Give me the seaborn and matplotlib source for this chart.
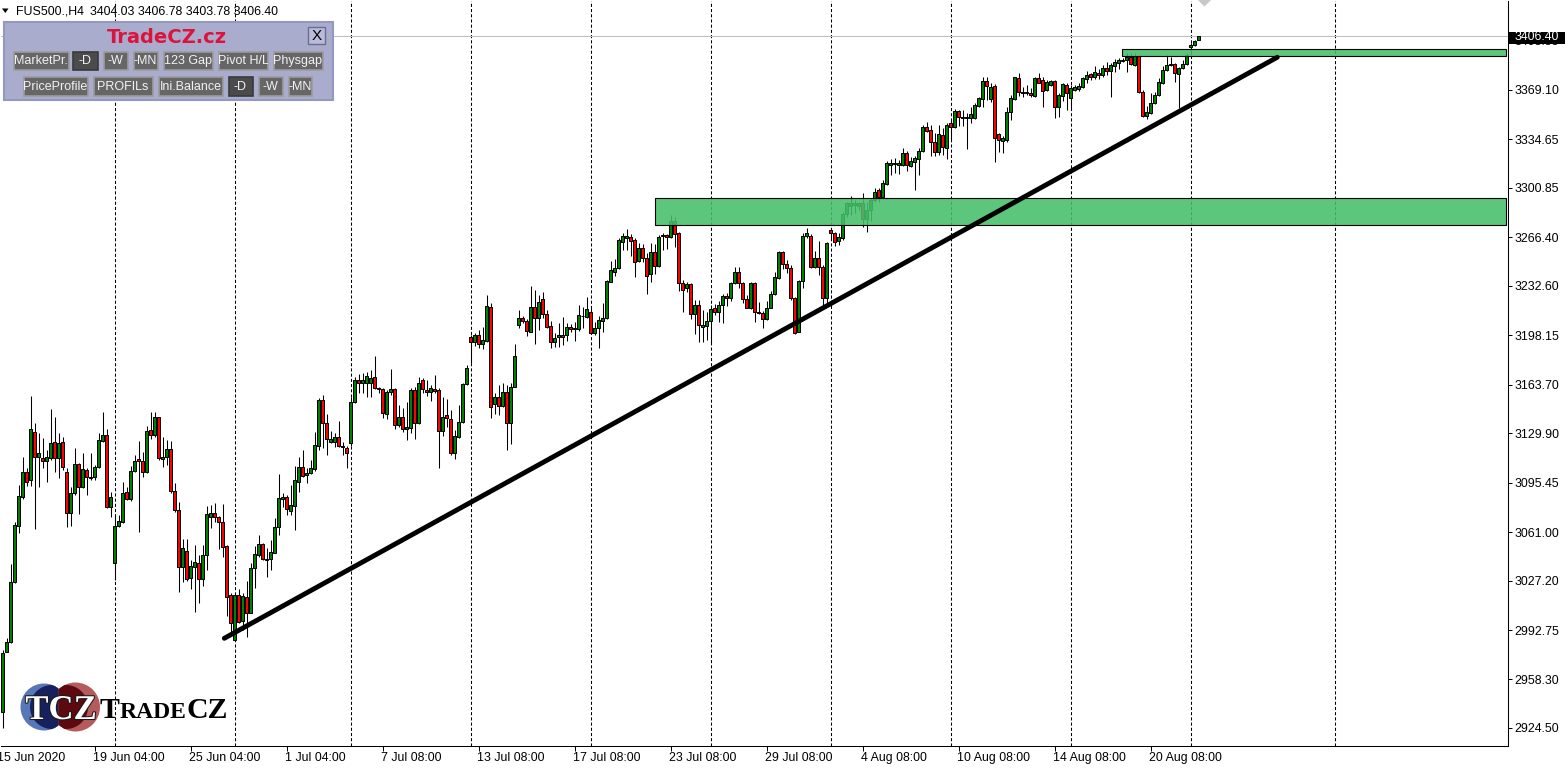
import numpy as np
import pandas as pd
import matplotlib
matplotlib.use("Agg")
import matplotlib.pyplot as plt
import matplotlib.patheffects as pe
from matplotlib.patches import Rectangle, Polygon, Circle
from matplotlib.transforms import IdentityTransform, blended_transform_factory
import seaborn as sns

# ---------------------------------------------------------------- data
symbol = "FUS500.,H4"
last_ohlc = ["3404.03", "3406.78", "3403.78", "3406.40"]

opens = [
    2935.6, 2977.6, 2984.6, 3026.0, 3065.5, 3085.2, 3102.7, 3097.3, 3131.0, 3113.5,
    3112.8, 3110.8, 3112.4, 3123.6, 3112.4, 3123.6, 3102.7, 3074.1, 3088.0, 3108.2,
    3092.6, 3104.3, 3098.5, 3099.2, 3106.2, 3124.7, 3128.7, 3078.3, 3039.3, 3065.5,
    3068.2, 3088.7, 3083.8, 3103.6, 3111.7, 3110.8, 3103.1, 3132.1, 3128.7, 3141.0,
    3112.1, 3113.1, 3118.9, 3089.6, 3076.4, 3036.9, 3047.8, 3028.8, 3036.9, 3039.7,
    3028.1, 3045.0, 3071.3, 3074.1, 3071.7, 3068.2, 3051.3, 3017.2, 2985.8, 3017.2,
    2999.3, 3016.0, 3004.8, 3035.8, 3045.0, 3052.7, 3042.2, 3042.0, 3046.6, 3064.3,
    3084.3, 3085.7, 3075.9, 3079.4, 3096.1, 3106.6, 3100.8, 3102.0, 3104.8, 3121.0,
    3153.1, 3136.8, 3124.0, 3124.0, 3127.1, 3121.0, 3119.4, 3123.3, 3151.9, 3167.0,
    3164.7, 3165.1, 3165.1, 3169.3, 3161.6, 3160.5, 3143.3, 3158.8, 3160.5, 3135.6,
    3141.0, 3132.6, 3133.3, 3160.0, 3137.2, 3167.0, 3160.0, 3158.8, 3160.7, 3160.0,
    3131.7, 3142.6, 3139.6, 3116.3, 3127.5, 3137.9, 3164.2, 3196.7, 3193.7, 3198.3,
    3192.1, 3194.4, 3217.6, 3150.3, 3155.0, 3148.9, 3158.4, 3137.2, 3162.3, 3205.3,
    3210.0, 3208.1, 3200.6, 3217.6, 3210.0, 3223.2, 3212.8, 3204.6, 3193.3, 3196.7,
    3198.3, 3198.3, 3203.7, 3202.3, 3202.3, 3211.4, 3211.1, 3214.6, 3199.5, 3203.0,
    3208.1, 3210.4, 3235.5, 3242.5, 3245.2, 3263.4, 3266.2, 3266.4, 3264.6, 3249.9,
    3258.8, 3251.8, 3240.6, 3256.0, 3246.6, 3267.5, 3268.0, 3266.4, 3277.8, 3269.2,
    3234.8, 3230.9, 3233.7, 3212.8, 3219.3, 3204.1, 3204.8, 3208.1, 3217.0, 3214.2,
    3219.3, 3225.7, 3223.9, 3234.4, 3242.0, 3234.4, 3223.4, 3217.4, 3234.4, 3214.2,
    3213.5, 3209.5, 3217.4, 3226.7, 3238.3, 3256.0, 3247.6, 3244.8, 3224.3, 3200.6,
    3236.0, 3267.5, 3267.5, 3245.9, 3251.8, 3245.9, 3224.3, 3271.5, 3269.2, 3263.9,
    3265.7, 3282.7, 3288.2, 3288.9, 3288.2, 3290.1, 3279.0, 3285.5, 3292.4, 3299.4,
    3294.3, 3303.6, 3316.8, 3317.3, 3316.8, 3316.8, 3325.0, 3316.1, 3319.1, 3321.0,
    3326.8, 3343.1, 3341.2, 3333.1, 3326.1, 3337.7, 3328.5, 3346.3, 3343.1, 3354.7,
    3350.1, 3349.4, 3349.4, 3349.4, 3357.9, 3362.6, 3375.6, 3362.6, 3371.9, 3338.4,
    3333.7, 3334.2, 3354.0, 3362.6, 3377.2, 3367.9, 3366.8, 3366.8, 3364.9, 3377.2,
    3376.1, 3369.1, 3372.6, 3375.6, 3357.0, 3364.9, 3372.6, 3363.3, 3369.1, 3369.6,
    3371.0, 3376.5, 3380.0, 3378.4, 3381.1, 3379.5, 3384.2, 3382.5, 3385.8, 3387.7,
    3389.3, 3390.0, 3392.3, 3386.5, 3392.8, 3367.9, 3351.0, 3353.3, 3359.8, 3365.6,
    3374.2, 3383.0, 3386.5, 3387.0, 3380.2, 3384.2, 3387.0, 3398.8, 3400.4, 3404.03,
]
highs = [
    2978.8, 2987.0, 3038.8, 3068.2, 3093.8, 3113.1, 3105.5, 3155.8, 3136.8, 3129.8,
    3126.4, 3118.2, 3146.6, 3141.4, 3129.8, 3127.5, 3105.5, 3092.6, 3119.4, 3108.9,
    3115.9, 3105.5, 3115.9, 3107.8, 3130.3, 3144.9, 3132.6, 3089.1, 3073.6, 3072.9,
    3096.1, 3092.6, 3107.1, 3114.7, 3124.7, 3117.0, 3134.9, 3144.9, 3144.9, 3141.4,
    3127.5, 3125.2, 3124.5, 3095.0, 3082.2, 3056.0, 3056.0, 3041.6, 3052.0, 3045.0,
    3052.0, 3079.2, 3079.9, 3081.0, 3072.2, 3080.4, 3052.0, 3018.3, 3018.3, 3021.1,
    3018.8, 3027.1, 3039.3, 3051.3, 3058.9, 3053.2, 3049.7, 3055.5, 3070.6, 3101.5,
    3088.0, 3086.9, 3093.8, 3107.1, 3113.5, 3118.2, 3105.5, 3111.2, 3131.0, 3154.2,
    3156.5, 3143.3, 3131.7, 3129.8, 3138.4, 3124.0, 3121.0, 3155.3, 3169.3, 3171.2,
    3171.7, 3172.8, 3174.0, 3183.7, 3161.9, 3161.2, 3160.0, 3174.4, 3161.2, 3149.6,
    3147.3, 3151.9, 3161.2, 3161.9, 3169.3, 3168.2, 3167.0, 3163.5, 3170.5, 3161.2,
    3155.3, 3153.5, 3146.1, 3132.1, 3149.6, 3165.1, 3177.4, 3198.3, 3199.5, 3201.8,
    3204.1, 3226.2, 3220.4, 3158.1, 3163.5, 3165.1, 3163.5, 3164.7, 3192.1, 3215.8,
    3211.8, 3209.5, 3232.7, 3229.7, 3226.2, 3228.5, 3215.8, 3208.1, 3199.5, 3206.5,
    3211.1, 3206.5, 3205.8, 3207.6, 3219.3, 3218.1, 3225.0, 3217.4, 3207.6, 3211.6,
    3220.4, 3236.7, 3249.9, 3251.3, 3266.2, 3269.2, 3272.2, 3268.5, 3266.2, 3262.3,
    3261.6, 3255.3, 3262.3, 3261.6, 3268.0, 3269.2, 3268.5, 3282.0, 3280.8, 3270.3,
    3236.7, 3235.5, 3234.4, 3222.7, 3222.7, 3215.8, 3214.6, 3219.3, 3219.7, 3222.0,
    3226.7, 3227.4, 3235.5, 3246.0, 3246.0, 3235.5, 3226.2, 3235.5, 3235.5, 3221.1,
    3215.1, 3222.0, 3229.0, 3242.5, 3256.9, 3256.9, 3250.6, 3247.1, 3225.0, 3236.7,
    3269.2, 3272.7, 3268.5, 3256.9, 3263.9, 3247.1, 3263.4, 3272.7, 3269.9, 3269.2,
    3284.3, 3291.2, 3295.2, 3292.4, 3291.2, 3297.1, 3291.2, 3293.6, 3300.6, 3300.6,
    3306.4, 3319.8, 3320.8, 3321.5, 3320.3, 3328.5, 3326.8, 3322.6, 3323.1, 3328.5,
    3344.7, 3347.0, 3344.7, 3339.3, 3344.7, 3342.4, 3345.9, 3348.2, 3355.6, 3355.1,
    3355.1, 3352.8, 3357.4, 3360.2, 3364.0, 3378.4, 3377.9, 3373.7, 3373.3, 3338.9,
    3337.0, 3357.4, 3365.6, 3378.4, 3381.1, 3371.0, 3372.6, 3370.3, 3378.4, 3381.1,
    3378.4, 3376.1, 3376.1, 3376.1, 3366.8, 3374.2, 3373.7, 3372.6, 3372.6, 3373.7,
    3378.4, 3382.5, 3381.1, 3385.8, 3383.5, 3386.5, 3388.8, 3388.1, 3390.5, 3391.2,
    3391.2, 3394.7, 3395.1, 3394.7, 3393.5, 3369.1, 3357.9, 3366.8, 3367.9, 3377.2,
    3385.8, 3393.5, 3392.3, 3387.7, 3385.3, 3390.0, 3394.7, 3401.6, 3403.9, 3406.78,
]
lows = [
    2924.5, 2977.4, 2983.5, 3025.3, 3060.2, 3084.1, 3093.1, 3093.1, 3062.9, 3092.2,
    3105.5, 3096.1, 3111.2, 3103.1, 3098.5, 3104.3, 3064.3, 3065.3, 3086.9, 3073.4,
    3091.5, 3086.9, 3097.3, 3097.3, 3105.5, 3124.0, 3077.6, 3071.7, 3027.6, 3064.8,
    3067.5, 3083.4, 3082.9, 3103.1, 3060.9, 3099.6, 3102.0, 3125.7, 3127.5, 3111.2,
    3106.6, 3107.8, 3088.0, 3075.2, 3019.5, 3026.4, 3027.1, 3021.1, 3005.5, 3011.8,
    3023.4, 3034.6, 3063.6, 3068.2, 3049.0, 3043.9, 3002.5, 2991.6, 2985.3, 2997.4,
    2992.8, 2988.1, 3004.4, 3021.8, 3043.9, 3041.6, 3029.9, 3034.6, 3046.2, 3059.0,
    3078.7, 3072.9, 3072.9, 3062.5, 3089.1, 3099.2, 3095.4, 3101.5, 3103.8, 3118.2,
    3119.4, 3114.7, 3122.9, 3120.1, 3120.5, 3114.7, 3105.5, 3121.0, 3151.2, 3158.1,
    3157.7, 3154.9, 3154.9, 3160.5, 3158.1, 3140.3, 3139.6, 3156.5, 3132.6, 3134.4,
    3131.0, 3125.2, 3129.8, 3125.7, 3136.3, 3157.7, 3155.8, 3152.6, 3158.1, 3105.5,
    3128.0, 3134.4, 3114.7, 3111.7, 3126.4, 3137.2, 3163.5, 3179.0, 3190.7, 3189.1,
    3188.4, 3193.7, 3140.3, 3143.3, 3142.6, 3148.4, 3118.2, 3122.4, 3161.9, 3203.4,
    3206.5, 3197.9, 3200.2, 3191.9, 3201.8, 3210.0, 3203.4, 3189.1, 3190.2, 3190.2,
    3191.4, 3194.2, 3200.2, 3194.2, 3201.1, 3203.0, 3210.0, 3198.8, 3198.3, 3189.5,
    3200.6, 3209.5, 3235.1, 3239.7, 3244.3, 3257.6, 3257.6, 3253.6, 3239.0, 3249.0,
    3249.0, 3226.7, 3235.1, 3240.6, 3245.9, 3257.6, 3258.3, 3265.7, 3259.9, 3229.0,
    3214.2, 3228.5, 3209.5, 3198.8, 3193.7, 3193.7, 3194.9, 3191.9, 3212.3, 3207.2,
    3206.5, 3218.8, 3222.0, 3233.7, 3230.9, 3220.4, 3217.0, 3216.5, 3207.6, 3212.8,
    3203.4, 3208.8, 3217.0, 3226.2, 3237.4, 3244.3, 3241.3, 3222.7, 3198.8, 3200.2,
    3230.9, 3266.2, 3245.2, 3245.2, 3240.2, 3218.1, 3218.1, 3264.6, 3260.6, 3261.1,
    3264.6, 3280.8, 3282.0, 3283.2, 3285.5, 3273.4, 3270.3, 3278.0, 3291.2, 3291.2,
    3293.6, 3302.9, 3309.8, 3311.5, 3310.5, 3316.1, 3312.8, 3315.2, 3299.4, 3309.8,
    3326.1, 3340.0, 3323.1, 3323.1, 3323.8, 3323.8, 3320.8, 3333.5, 3342.4, 3344.0,
    3344.0, 3327.8, 3346.3, 3348.7, 3357.0, 3357.0, 3362.1, 3360.9, 3319.1, 3326.1,
    3325.4, 3333.1, 3348.2, 3362.1, 3364.9, 3364.4, 3365.6, 3364.4, 3364.4, 3373.7,
    3357.0, 3368.6, 3371.9, 3349.4, 3350.1, 3361.6, 3355.1, 3355.1, 3368.6, 3368.6,
    3370.3, 3374.2, 3376.1, 3376.5, 3376.5, 3378.4, 3379.5, 3364.4, 3381.8, 3383.5,
    3388.8, 3381.8, 3386.5, 3385.8, 3366.8, 3350.1, 3348.7, 3352.4, 3359.3, 3364.9,
    3373.3, 3382.5, 3385.8, 3374.9, 3356.3, 3383.5, 3386.5, 3393.5, 3399.7, 3403.78,
]
closes = [
    2976.7, 2984.2, 3026.0, 3065.9, 3086.2, 3102.7, 3096.1, 3132.6, 3113.1, 3116.3,
    3110.8, 3113.1, 3123.3, 3112.4, 3123.3, 3106.2, 3074.1, 3088.0, 3108.2, 3092.6,
    3104.8, 3099.2, 3099.6, 3106.2, 3125.2, 3128.7, 3078.3, 3085.2, 3065.5, 3068.7,
    3088.4, 3083.8, 3103.8, 3110.5, 3110.3, 3103.1, 3131.4, 3128.7, 3141.0, 3112.4,
    3113.1, 3118.9, 3089.6, 3076.4, 3036.9, 3049.7, 3028.1, 3037.4, 3040.0, 3028.1,
    3045.0, 3073.6, 3074.1, 3071.3, 3068.2, 3050.8, 3016.0, 2997.9, 3017.2, 2998.6,
    3016.5, 3004.8, 3035.8, 3045.7, 3052.7, 3042.0, 3041.6, 3047.3, 3064.3, 3084.5,
    3085.7, 3076.9, 3079.9, 3097.3, 3106.6, 3100.1, 3102.0, 3105.5, 3121.7, 3153.1,
    3136.8, 3125.7, 3125.7, 3127.5, 3121.0, 3120.1, 3115.9, 3151.9, 3167.0, 3164.7,
    3167.0, 3169.8, 3168.2, 3161.2, 3160.5, 3143.8, 3158.8, 3160.5, 3135.6, 3141.0,
    3132.6, 3134.0, 3160.0, 3137.2, 3164.7, 3160.5, 3158.8, 3161.2, 3159.5, 3131.7,
    3141.4, 3140.3, 3116.3, 3128.0, 3137.9, 3164.2, 3175.1, 3193.7, 3198.3, 3192.1,
    3194.9, 3218.6, 3148.4, 3155.0, 3148.9, 3158.4, 3137.2, 3162.3, 3183.7, 3210.0,
    3208.1, 3201.1, 3217.6, 3210.0, 3221.1, 3212.8, 3204.1, 3193.7, 3196.0, 3198.3,
    3196.7, 3203.7, 3202.3, 3203.0, 3212.3, 3211.8, 3216.3, 3199.5, 3203.0, 3208.8,
    3210.0, 3236.0, 3243.6, 3245.2, 3264.6, 3267.5, 3267.3, 3263.9, 3249.0, 3259.2,
    3251.8, 3239.7, 3256.0, 3246.6, 3266.4, 3268.0, 3266.4, 3277.8, 3268.5, 3234.4,
    3229.7, 3233.7, 3212.8, 3219.3, 3205.3, 3205.3, 3208.1, 3216.3, 3214.2, 3219.3,
    3225.7, 3223.9, 3234.4, 3242.0, 3234.4, 3223.4, 3217.4, 3234.4, 3214.2, 3213.5,
    3209.5, 3217.4, 3226.7, 3239.0, 3256.0, 3247.6, 3244.8, 3223.9, 3199.5, 3236.0,
    3267.5, 3269.2, 3245.9, 3252.2, 3245.9, 3224.3, 3262.3, 3269.2, 3263.4, 3266.9,
    3282.7, 3290.1, 3290.1, 3290.1, 3290.1, 3279.0, 3285.5, 3292.4, 3298.2, 3294.3,
    3304.1, 3318.0, 3318.0, 3318.0, 3318.0, 3325.0, 3316.8, 3319.8, 3321.5, 3326.8,
    3343.5, 3340.7, 3333.1, 3326.1, 3338.4, 3329.1, 3344.7, 3343.1, 3354.7, 3350.1,
    3349.4, 3350.1, 3352.4, 3358.6, 3363.3, 3375.6, 3371.9, 3371.4, 3335.4, 3334.2,
    3335.4, 3354.0, 3363.3, 3377.9, 3367.9, 3366.8, 3367.9, 3365.6, 3377.2, 3374.2,
    3368.6, 3374.9, 3375.6, 3357.0, 3365.6, 3373.3, 3366.8, 3370.3, 3371.4, 3371.9,
    3377.2, 3379.5, 3378.4, 3381.8, 3379.5, 3384.6, 3382.5, 3386.5, 3388.4, 3390.0,
    3390.0, 3392.3, 3387.2, 3392.8, 3367.9, 3351.0, 3354.0, 3360.2, 3365.6, 3374.9,
    3383.0, 3386.5, 3387.0, 3381.1, 3384.2, 3387.0, 3393.5, 3400.4, 3403.4, 3406.40,
]

date_labels = ["15 Jun 2020", "19 Jun 04:00", "25 Jun 04:00", "1 Jul 04:00",
               "7 Jul 08:00", "13 Jul 08:00", "17 Jul 08:00", "23 Jul 08:00",
               "29 Jul 08:00", "4 Aug 08:00", "10 Aug 08:00", "14 Aug 08:00",
               "20 Aug 08:00"]
date_label_bars = [-1, 23, 47, 71, 95, 119, 143, 167, 191, 215, 239, 263, 287]
week_start_bars = [28, 58, 87, 117, 147, 177, 207, 237, 267, 297, 333]
price_ticks = [2924.50, 2958.30, 2992.75, 3027.20, 3061.00, 3095.45, 3129.90,
               3163.70, 3198.15, 3232.60, 3266.40, 3300.85, 3334.65, 3369.10, 3403.55]
current_price = 3406.40

zone_start_bars = [163.1, 279.9]
zone_end_bars = [375.9, 375.9]
zone_lows = [3275.0, 3392.8]
zone_highs = [3293.8, 3397.4]

trend_bars = [55.45, 318.7]
trend_prices = [2987.0, 3391.9]

# ---------------------------------------------------------------- figure
sns.set_theme(style="white")
plt.rcParams["font.family"] = ["Liberation Sans", "DejaVu Sans"]

W, H = 1568, 768
fig = plt.figure(figsize=(W / 100, H / 100), dpi=100)
fig.patch.set_facecolor("white")
ax = fig.add_axes([0.5 / W, (H - 745.5) / H, 1507 / W, 745 / H])
ax.set_facecolor("white")
ax.set_xlim(-0.5, 376.25)
ax.set_ylim(2912.3, 3431.45)

df = pd.DataFrame({"open": opens, "high": highs, "low": lows, "close": closes})
df["bar"] = np.arange(len(df))
up = df["close"] >= df["open"]
body_lo = np.minimum(df["open"], df["close"])
body_h = (df["close"] - df["open"]).abs()

# weekly dashed grid
ax.vlines(week_start_bars, 2912.3, 3431.45, colors="black", lw=0.75,
          linestyles=(0, (3, 2)), zorder=1)
# current price line
ax.axhline(current_price, color="#C0C0C0", lw=0.75, zorder=1.5)

# candles
ax.vlines(df["bar"], df["low"], df["high"], colors="black", lw=0.75, zorder=2)
ax.bar(df["bar"], body_h, bottom=body_lo, width=0.55,
       color=np.where(up, "#008000", "#FF0000"), edgecolor="black",
       linewidth=0.72, zorder=3)

# zones
for xs, xe, lo, hi in zip(zone_start_bars, zone_end_bars, zone_lows, zone_highs):
    ax.add_patch(Rectangle((xs, lo), xe - xs, hi - lo,
                           facecolor=(0.27, 0.75, 0.42, 0.88),
                           edgecolor="black", linewidth=0.8, zorder=4))

# trend line
sns.lineplot(x=trend_bars, y=trend_prices, ax=ax, color="black", lw=3.5,
             solid_capstyle="round", zorder=5, legend=False)

# axes styling
for name, s in ax.spines.items():
    s.set_color("black")
    s.set_linewidth(0.75)
    s.set_visible(name in ("right", "bottom"))
ax.yaxis.tick_right()
ax.set_yticks(price_ticks)
ax.set_yticklabels([f"{p:.2f}" for p in price_ticks])
ax.tick_params(axis="y", direction="out", length=3, width=0.72, pad=2,
               labelsize=8.9, colors="black", right=True, left=False)
ax.set_xticks(date_label_bars[1:])
ax.set_xticklabels([])
ax.tick_params(axis="x", direction="out", length=3.5, width=0.72,
               bottom=True, colors="black")
ax.set_xlabel("")
ax.set_ylabel("")
ax.grid(False)

trans = blended_transform_factory(ax.transData, ax.transAxes)
for b, lab in zip(date_label_bars, date_labels):
    ax.text(b - 0.4, (745.5 - 761) / 745, lab, transform=trans, ha="left",
            va="baseline", fontsize=8.9, color="black", clip_on=False)

# ---------------------------------------------------------------- overlays (pixel space)
PX = IdentityTransform()


def prect(x0, y0, x1, y1, **kw):
    r = Rectangle((x0, H - y1), x1 - x0, y1 - y0, transform=PX, **kw)
    fig.add_artist(r)
    return r


def ptext(x, y, s, **kw):
    return fig.text(x, H - y, s, transform=PX, **kw)


# title line
fig.add_artist(Polygon([[2, H - 8.5], [8.5, H - 8.5], [5.25, H - 13]], closed=True,
                       transform=PX, facecolor="black", edgecolor="none"))
ptext(16, 15, symbol, fontsize=8.9, va="baseline", ha="left", color="black")
ptext(90, 15, " ".join(last_ohlc), fontsize=8.9, va="baseline", ha="left", color="black")

# chart-shift marker
fig.add_artist(Polygon([[1198, H], [1211, H], [1204.5, H - 6.5]], closed=True,
                       transform=PX, facecolor="#C8C8C8", edgecolor="none"))

# current price label on price scale
prect(1508.5, 31.5, 1565, 43.5, facecolor="black", edgecolor="none", zorder=20)
ptext(1536.5, 37.5, f"{current_price:.2f}", fontsize=8.9, color="white",
      ha="center", va="center", zorder=21)

# TradeCZ panel
prect(3.5, 21.5, 333, 100, facecolor="#AAACCE", edgecolor="#9497C2", linewidth=1.5, zorder=10)
ptext(167, 43.3, "TradeCZ.cz", fontsize=14, fontweight="bold", color="#DC143C",
      family="DejaVu Sans", ha="center", va="baseline", zorder=12)
prect(308, 27, 325, 44, facecolor="#B9BBD9", edgecolor="#6C6E90", linewidth=1, zorder=11)
ptext(316.5, 35.8, "X", fontsize=11, color="black", ha="center", va="center", zorder=12)

buttons = [
    ("MarketPr.", 13.5, 68.5, 51.5, 70.0, False),
    ("-D", 72.5, 97.5, 51.5, 70.0, True),
    ("-W", 103.5, 127.5, 51.5, 70.0, False),
    ("-MN", 133.5, 157.5, 51.5, 70.0, False),
    ("123 Gap", 163.5, 212.5, 51.5, 70.0, False),
    ("Pivot H/L", 218.5, 267.5, 51.5, 70.0, False),
    ("Physgap", 273.5, 322.5, 51.5, 70.0, False),
    ("PriceProfile", 23.5, 87.5, 76.5, 95.5, False),
    ("PROFILs", 93.5, 152.5, 76.5, 95.5, False),
    ("Ini.Balance", 158.5, 222.5, 76.5, 95.5, False),
    ("-D", 228.5, 252.5, 76.5, 95.5, True),
    ("-W", 258.5, 282.5, 76.5, 95.5, False),
    ("-MN", 288.5, 311.5, 76.5, 95.5, False),
]
for lab, x0, x1, y0, y1, pressed in buttons:
    r = prect(x0, y0, x1, y1, facecolor="#4B4B4B" if pressed else "#666666",
              edgecolor="#3A3A3A" if pressed else "#9C9C9C", linewidth=1.2, zorder=11)
    t = ptext((x0 + x1) / 2, (y0 + y1) / 2 + 0.5, lab, fontsize=9, color="#F2F2F2",
              ha="center", va="center", zorder=12)
    t.set_clip_path(r)

# TCZ logo
blue = Circle((44, H - 707), 23.5, transform=PX, facecolor="#5877B9", edgecolor="none", zorder=10)
red = Circle((75.5, H - 707), 24.5, transform=PX, facecolor="#B65B5B", edgecolor="none", zorder=10)
fig.add_artist(blue)
fig.add_artist(red)
tt = np.linspace(0, 2 * np.pi, 160)
navy_pts = np.c_[52 + 22 * np.cos(tt), H - 707 + 22 * np.sin(tt)]
navy_pts[:, 0] = np.minimum(navy_pts[:, 0], 58.5)
maroon_pts = np.c_[66 + 22 * np.cos(tt), H - 707 + 22 * np.sin(tt)]
maroon_pts[:, 0] = np.maximum(maroon_pts[:, 0], 58.5)
navy = Polygon(navy_pts, closed=True, transform=PX, facecolor="#16215E", edgecolor="none", zorder=11)
maroon = Polygon(maroon_pts, closed=True, transform=PX, facecolor="#5C0A10", edgecolor="none", zorder=11)
fig.add_artist(navy)
fig.add_artist(maroon)
navy.set_clip_path(blue)
maroon.set_clip_path(red)
ptext(61, 719, "TCZ", fontsize=25, fontweight="bold", family="Liberation Serif",
      color="white", ha="center", va="baseline", zorder=12,
      path_effects=[pe.withStroke(linewidth=1.5, foreground="#1a1a1a")])
ptext(100, 718.5, "T", fontsize=21.5, fontweight="bold", family="Liberation Serif",
      color="black", ha="left", va="baseline", zorder=12)
ptext(119.9, 718.5, "RADE", fontsize=17, fontweight="bold", family="Liberation Serif",
      color="black", ha="left", va="baseline", zorder=12)
ptext(186.5, 718.5, "CZ", fontsize=21.5, fontweight="bold", family="Liberation Serif",
      color="black", ha="left", va="baseline", zorder=12)

fig.savefig("out.png", dpi=100, facecolor="white")
